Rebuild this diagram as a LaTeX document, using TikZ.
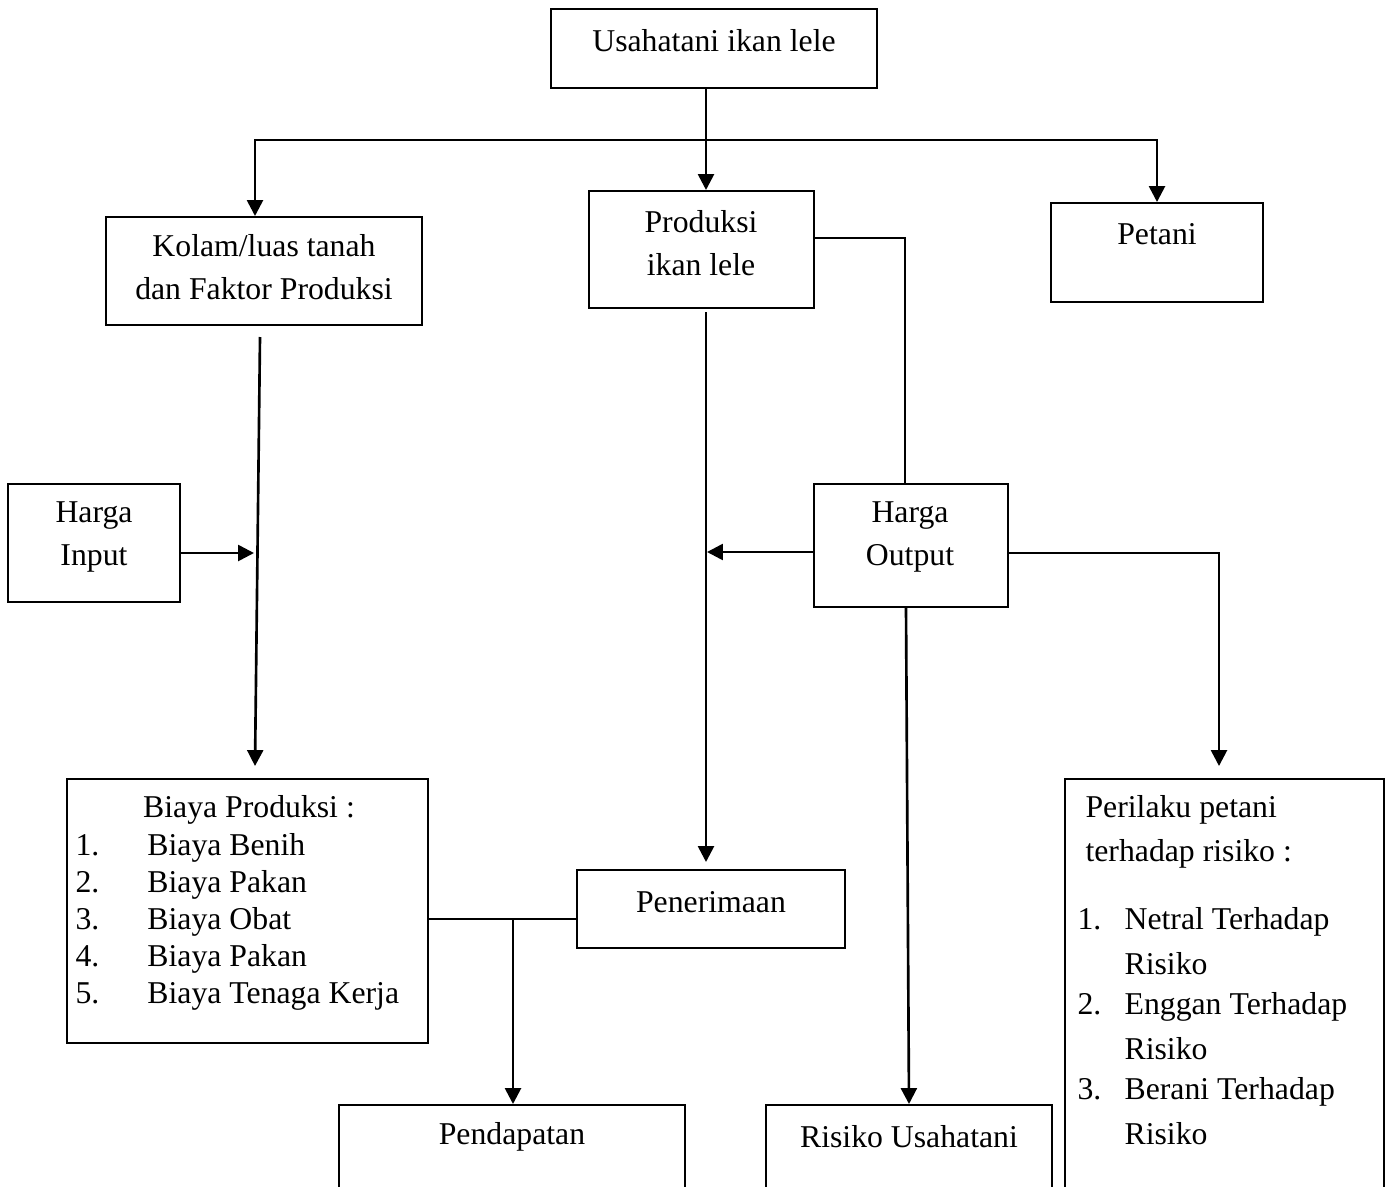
\documentclass[tikz,border=0pt]{standalone}
\usepackage{fontspec}
\setmainfont{Liberation Serif}
\usetikzlibrary{arrows.meta,fit,calc}
\begin{document}
\begin{tikzpicture}[x=0.378pt,y=-0.378pt,
  box/.style={draw, line width=0.75pt, inner sep=0pt},
  txt/.style={inner sep=0pt, font=\fontsize{12}{16.2}\selectfont},
  arr/.style={line width=1pt, -{Triangle[length=6pt,width=6pt]}},
  ln/.style={line width=1pt},
  thinln/.style={line width=0.6pt}]
\useasboundingbox (0,0) rectangle (1391,1186);
\clip (0,0) rectangle (1391,1186);

% boxes
\node[box, fit={(551,9)(877,88)}] (u) {};
\node[txt] (ut) at (714,41) {Usahatani ikan lele};

\node[box, fit={(106,217)(422,325)}] (kol) {};
\node[txt, align=center] (kolt) at (264,267) {Kolam/luas tanah\\dan Faktor Produksi};

\node[box, fit={(589,191)(814,308)}] (prod) {};
\node[txt, align=center] (prodt) at (701,243) {Produksi\\ikan lele};

\node[box, fit={(1051,203)(1263,302)}] (pet) {};
\node[txt] (pett) at (1157,234) {Petani};

\node[box, fit={(8,484)(180,602)}] (hin) {};
\node[txt, align=center] (hint) at (94,537) {Harga\\Input};

\node[box, fit={(814,484)(1008,607)}] (hout) {};
\node[txt, align=center] (houtt) at (910,537) {Harga\\Output};

\node[box, fit={(67,779)(428,1043)}] (bia) {};
\node[txt] (biat) at (249,810) {Biaya Produksi :};
\node[txt, anchor=west] (b1) at (75,848) {\makebox[27.2pt][l]{1.}Biaya Benih};
\node[txt, anchor=west] (b2) at (75,885) {\makebox[27.2pt][l]{2.}Biaya Pakan};
\node[txt, anchor=west] (b3) at (75,922) {\makebox[27.2pt][l]{3.}Biaya Obat};
\node[txt, anchor=west] (b4) at (75,959) {\makebox[27.2pt][l]{4.}Biaya Pakan};
\node[txt, anchor=west] (b5) at (75,996) {\makebox[27.2pt][l]{5.}Biaya Tenaga Kerja};

\node[box, fit={(577,870)(845,948)}] (pen) {};
\node[txt] (pent) at (711,902) {Penerimaan};

\node[box, fit={(339,1105)(685,1230)}] (pend) {};
\node[txt] (pendt) at (512,1137) {Pendapatan};

\node[box, fit={(766,1105)(1052,1230)}] (ris) {};
\node[txt] (rist) at (909,1137) {Risiko Usahatani};

\node[box, fit={(1065,779)(1384,1230)}] (per) {};
\node[txt, anchor=west] (p0) at (1085,810) {Perilaku petani};
\node[txt, anchor=west] (p1) at (1085,854) {terhadap risiko :};
\node[txt, anchor=west] (p2) at (1077,922) {\makebox[17.8pt][l]{1.}Netral Terhadap};
\node[txt, anchor=west] (p3) at (1077,964) {\makebox[17.8pt][l]{}Risiko};
\node[txt, anchor=west] (p4) at (1077,1007) {\makebox[17.8pt][l]{2.}Enggan Terhadap};
\node[txt, anchor=west] (p5) at (1077,1049) {\makebox[17.8pt][l]{}Risiko};
\node[txt, anchor=west] (p6) at (1077,1092) {\makebox[17.8pt][l]{3.}Berani Terhadap};
\node[txt, anchor=west] (p7) at (1077,1134) {\makebox[17.8pt][l]{}Risiko};

% connectors
\coordinate (top) at (706,140);
\draw[arr] (706,0 |- u.south) -- (706,0 |- prod.north);
\draw[arr] (top) -| (255,0 |- kol.north);
\draw[arr] (top) -| (1157,0 |- pet.north);

\draw[thinln] (prod.east |- 0,238) -| (905,0 |- hout.north);

\coordinate (k1) at (260,337);
\coordinate (k2) at (255,766);
\draw[arr] (k1) -- (k2);
\draw[arr] (hin.east |- 0,553) -- (254,553);

\coordinate (pr1) at (706,312);
\coordinate (pr2) at (706,862);
\draw[arr] (pr1) -- (pr2);
\draw[arr] (hout.west |- 0,552) -- (707,552);

\coordinate (pe1) at (1219,766);
\draw[arr] (hout.east |- 0,553) -| (pe1);
\draw[arr] (906,0 |- hout.south) -- (909,0 |- ris.north);

\draw[thinln] (bia.east |- 0,919) -- (pen.west |- 0,919);
\draw[arr] (513,919) -- (513,0 |- pend.north);
\end{tikzpicture}
\end{document}
